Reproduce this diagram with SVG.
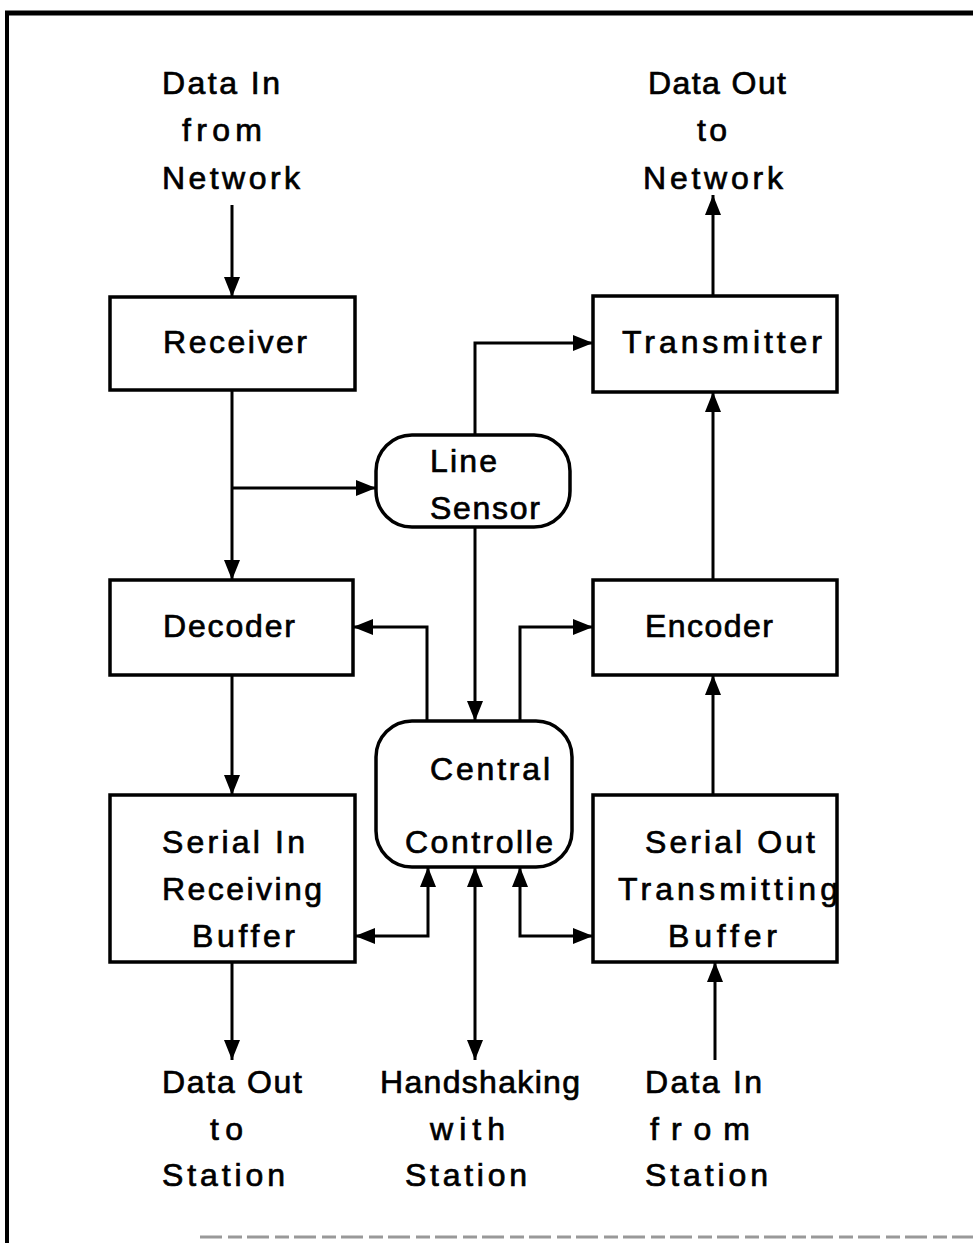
<svg xmlns="http://www.w3.org/2000/svg" width="973" height="1243" viewBox="0 0 973 1243">
<style>
.box{fill:#fff;stroke:#000;stroke-width:3.5}
.c{fill:none;stroke:#000;stroke-width:3}
text{font-family:"Liberation Sans",Arial,sans-serif;font-size:32px;fill:#000;stroke:#000;stroke-width:0.7}
</style>
<defs>
<marker id="ah" viewBox="0 0 20 16" refX="20" refY="8" markerWidth="20" markerHeight="16" markerUnits="userSpaceOnUse" orient="auto-start-reverse">
<path d="M0,0 L20,8 L0,16 Z" fill="#000"/>
</marker>
</defs>
<rect width="973" height="1243" fill="#fff"/>
<g id="frame">
<line x1="5" y1="13" x2="973" y2="13" stroke="#000" stroke-width="5"/>
<line x1="7" y1="11" x2="7" y2="1243" stroke="#000" stroke-width="4"/>
<line x1="200" y1="1237" x2="973" y2="1237" stroke="#999" stroke-width="3" stroke-dasharray="22 6 14 5"/>
</g>
<g id="connectors">
<path class="c" d="M232 205 V297" marker-end="url(#ah)"/>
<path class="c" d="M232 390 V580" marker-end="url(#ah)"/>
<path class="c" d="M232 488 H376" marker-end="url(#ah)"/>
<path class="c" d="M475 435 V343 H593" marker-end="url(#ah)"/>
<path class="c" d="M713 296 V195" marker-end="url(#ah)"/>
<path class="c" d="M713 580 V392" marker-end="url(#ah)"/>
<path class="c" d="M713 795 V675" marker-end="url(#ah)"/>
<path class="c" d="M715 1060 V962" marker-end="url(#ah)"/>
<path class="c" d="M475 527 V721" marker-end="url(#ah)"/>
<path class="c" d="M427 721 V627 H353" marker-end="url(#ah)"/>
<path class="c" d="M520 721 V627 H593" marker-end="url(#ah)"/>
<path class="c" d="M232 675 V795" marker-end="url(#ah)"/>
<path class="c" d="M232 962 V1060" marker-end="url(#ah)"/>
<path class="c" d="M355 936 H428 V867" marker-start="url(#ah)" marker-end="url(#ah)"/>
<path class="c" d="M593 936 H520 V867" marker-start="url(#ah)" marker-end="url(#ah)"/>
<path class="c" d="M475 867 V1060" marker-start="url(#ah)" marker-end="url(#ah)"/>
</g>
<g id="in-network">
<text x="162" y="94" textLength="118" lengthAdjust="spacing">Data In</text>
<text x="182" y="141" textLength="80" lengthAdjust="spacing">from</text>
<text x="162" y="189" textLength="138" lengthAdjust="spacing">Network</text>
</g>
<g id="out-network">
<text x="648" y="94" textLength="138" lengthAdjust="spacing">Data Out</text>
<text x="697" y="141" textLength="30" lengthAdjust="spacing">to</text>
<text x="643" y="189" textLength="140" lengthAdjust="spacing">Network</text>
</g>
<g id="receiver">
<rect class="box" x="110" y="297" width="245" height="93"/>
<text x="163" y="353" textLength="144" lengthAdjust="spacing">Receiver</text>
</g>
<g id="transmitter">
<rect class="box" x="593" y="296" width="244" height="96"/>
<text x="622" y="353" textLength="200" lengthAdjust="spacing">Transmitter</text>
</g>
<g id="line-sensor">
<rect class="box" x="376" y="435" width="194" height="92" rx="36"/>
<text x="430" y="472" textLength="67" lengthAdjust="spacing">Line</text>
<text x="430" y="519" textLength="110" lengthAdjust="spacing">Sensor</text>
</g>
<g id="decoder">
<rect class="box" x="110" y="580" width="243" height="95"/>
<text x="163" y="637" textLength="132" lengthAdjust="spacing">Decoder</text>
</g>
<g id="encoder">
<rect class="box" x="593" y="580" width="244" height="95"/>
<text x="645" y="637" textLength="128" lengthAdjust="spacing">Encoder</text>
</g>
<g id="central-controller">
<rect class="box" x="376" y="721" width="196" height="146" rx="36"/>
<text x="430" y="780" textLength="120" lengthAdjust="spacing">Central</text>
<text x="405" y="853" textLength="148" lengthAdjust="spacing">Controlle</text>
</g>
<g id="serial-in">
<rect class="box" x="110" y="795" width="245" height="167"/>
<text x="162" y="853" textLength="143" lengthAdjust="spacing">Serial In</text>
<text x="162" y="900" textLength="160" lengthAdjust="spacing">Receiving</text>
<text x="192" y="947" textLength="103" lengthAdjust="spacing">Buffer</text>
</g>
<g id="serial-out">
<rect class="box" x="593" y="795" width="244" height="167"/>
<text x="645" y="853" textLength="170" lengthAdjust="spacing">Serial Out</text>
<text x="618" y="900" textLength="220" lengthAdjust="spacing">Transmitting</text>
<text x="668" y="947" textLength="109" lengthAdjust="spacing">Buffer</text>
</g>
<g id="out-station">
<text x="162" y="1093" textLength="140" lengthAdjust="spacing">Data Out</text>
<text x="210" y="1140" textLength="33" lengthAdjust="spacing">to</text>
<text x="162" y="1186" textLength="123" lengthAdjust="spacing">Station</text>
</g>
<g id="handshaking">
<text x="380" y="1093" textLength="200" lengthAdjust="spacing">Handshaking</text>
<text x="430" y="1140" textLength="75" lengthAdjust="spacing">with</text>
<text x="405" y="1186" textLength="122" lengthAdjust="spacing">Station</text>
</g>
<g id="in-station">
<text x="645" y="1093" textLength="117" lengthAdjust="spacing">Data In</text>
<text x="650" y="1140" textLength="100" lengthAdjust="spacing">from</text>
<text x="645" y="1186" textLength="123" lengthAdjust="spacing">Station</text>
</g>
</svg>
